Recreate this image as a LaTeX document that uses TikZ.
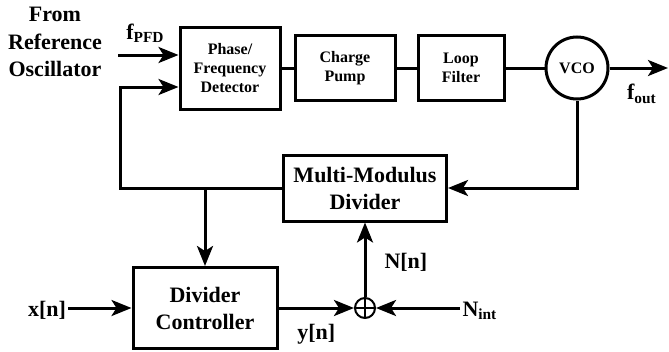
\documentclass[tikz,border=0pt]{standalone}
\usepackage{fontspec}
\setmainfont{Liberation Serif}
\usepackage{tikz}
\usetikzlibrary{arrows.meta}

\begin{document}
\begin{tikzpicture}[
    x=1pt, y=-1pt,
    line width=3pt,
    font=\bfseries,
    >={Stealth[length=20pt, width=16pt, inset=5pt]},
    smallbox/.style={draw, rectangle, align=center, inner sep=0pt,
        font=\fontsize{16}{19}\selectfont\bfseries},
    bigbox/.style={draw, rectangle, align=center, inner sep=0pt,
        font=\fontsize{22}{27}\selectfont\bfseries},
    label/.style={inner sep=1pt, font=\fontsize{22}{26}\selectfont\bfseries},
    summer/.style={draw, circle, minimum size=20pt, inner sep=0pt, line width=2pt,
        path picture={
            \draw[line width=2pt] (path picture bounding box.north) -- (path picture bounding box.south);
            \draw[line width=2pt] (path picture bounding box.west) -- (path picture bounding box.east);
        }}
]
\useasboundingbox (0,0) rectangle (669,351);

% ---- Forward path ----
\node[smallbox, minimum width=100pt, minimum height=82pt] (pfd) at (230,68) {Phase/\\Frequency\\Detector};
\node[smallbox, minimum width=100pt, minimum height=65pt] (cp)  at (345,68) {Charge\\Pump};
\node[smallbox, minimum width=86pt,  minimum height=65pt] (lf)  at (461,68) {Loop\\Filter};
\node[smallbox, circle, minimum size=62pt] (vco) at (577,68) {VCO};

% ---- Feedback path ----
\node[bigbox, minimum width=163pt, minimum height=66pt] (mmd) at (365,188) {Multi-Modulus\\Divider};
\node[bigbox, minimum width=144pt, minimum height=81pt] (dc)  at (205,308) {Divider\\Controller};
\node[summer] (sum) at (365,308) {};

% ---- Inputs and outputs ----
\node[label, align=center, font=\fontsize{22}{27.5}\selectfont\bfseries] (ref) at (55,42) {From\\Reference\\Oscillator};
\node[label] (xin)  at (47,310) {x[n]};
\node[label, anchor=west] (nint) at (460,311) {N\textsubscript{int}};
\coordinate (refin) at (118,55);
\coordinate (out)   at (668,68);
\coordinate (fb)    at (120,87);

% ---- Connectors ----
\draw (pfd) -- (cp);
\draw (cp) -- (lf);
\draw (lf) -- (vco);
\draw[->] (vco.east) -- (out)
    node[label, pos=0.55, below=14pt] {f\textsubscript{out}};
\draw[->] (refin) -- (pfd.west |- refin)
    node[label, pos=0.45, above=10pt] {f\textsubscript{PFD}};
\draw[->] (vco.south) |- (mmd.east);
\draw[->] (mmd.west) -| (fb) -- (pfd.west |- fb);
\draw[->] (dc.north |- mmd.west) -- (dc.north);
\draw[->] (xin.east |- dc) -- (dc.west);
\draw[->] (dc.east |- sum) -- (sum.west)
    node[label, pos=0.5, below=14pt] {y[n]};
\draw[->] (nint.west |- sum) -- (sum.east);
\draw[->] (sum.north) -- (sum |- mmd.south)
    node[label, pos=0.47, right=17pt] {N[n]};

\end{tikzpicture}
\end{document}
